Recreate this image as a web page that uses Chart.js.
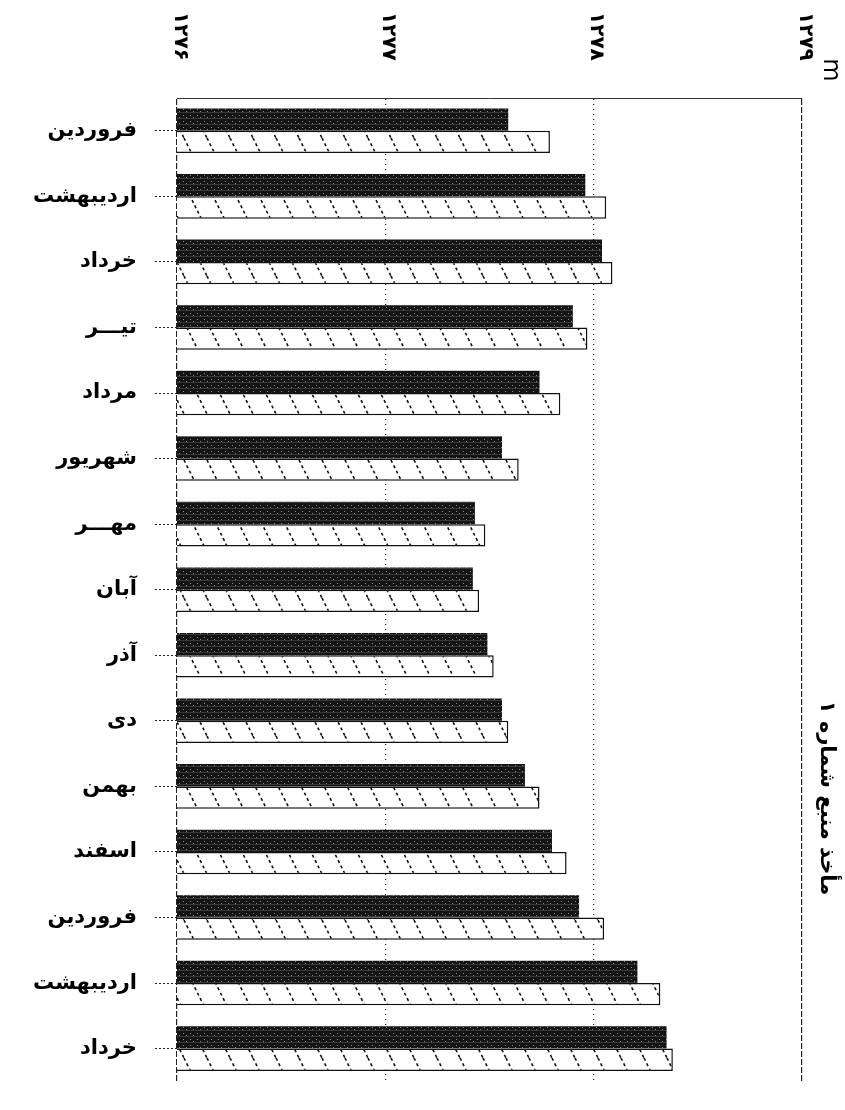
<!DOCTYPE html>
<html lang="fa">
<head>
<meta charset="utf-8">
<script src="https://cdn.jsdelivr.net/npm/chart.js@4.4.0/dist/chart.umd.min.js"></script>
<style>
    html, body { margin: 0; padding: 0; background: #fff; overflow: hidden; }
    #chart { display: block; }
</style>
</head>
<body>
<canvas id="chart" width="845" height="1112"></canvas>
<script>
    // ماه‌ها (دو سال پیاپی)
    const months = ['فروردین', 'اردیبهشت', 'خرداد', 'تیـــر', 'مرداد', 'شهریور', 'مهـــر',
        'آبان', 'آذر', 'دی', 'بهمن', 'اسفند', 'فروردین', 'اردیبهشت', 'خرداد'];

    // سری تیره (بالا) و سری هاشور خورده (پایین)
    const seriesDark = [1277.59, 1277.96, 1278.04, 1277.90, 1277.74, 1277.56, 1277.43,
        1277.42, 1277.49, 1277.56, 1277.67, 1277.80, 1277.93, 1278.21, 1278.35];
    const seriesHatch = [1277.79, 1278.06, 1278.09, 1277.97, 1277.84, 1277.64, 1277.48,
        1277.45, 1277.52, 1277.59, 1277.74, 1277.87, 1278.05, 1278.32, 1278.38];

    // محور افقی
    const tickValues = [1276, 1277, 1278, 1279];
    const tickLabels = ['۱۲۷۶', '۱۲۷۷', '۱۲۷۸', '۱۲۷۹'];
    const unitMark = 'm';
    const sourceNote = 'مأخذ منبع شماره ۱';

    const FONT = '"DejaVu Sans", sans-serif';

    // الگوی بافت تیره
    function darkPattern() {
        const c = document.createElement('canvas');
        c.width = 7; c.height = 6;
        const g = c.getContext('2d');
        g.fillStyle = '#141414';
        g.fillRect(0, 0, 7, 6);
        g.fillStyle = '#8a8a8a';
        g.fillRect(1, 1, 1, 1);
        g.fillRect(4, 3, 1, 1);
        g.fillStyle = '#383838';
        g.fillRect(0, 4, 7, 1);
        return g.createPattern(c, 'repeat');
    }

    // الگوی هاشور مورب
    function hatchPattern() {
        const c = document.createElement('canvas');
        c.width = 23; c.height = 46;
        const g = c.getContext('2d');
        g.fillStyle = '#fff';
        g.fillRect(0, 0, 23, 46);
        g.strokeStyle = '#111';
        g.lineWidth = 1.6;
        g.setLineDash([3, 3]);
        [-23, 0, 23].forEach(function(dx) {
            g.beginPath();
            g.moveTo(dx, 0);
            g.lineTo(dx + 23, 46);
            g.stroke();
        });
        return g.createPattern(c, 'repeat');
    }

    // متن‌های چرخیده: برچسب محور، واحد و مأخذ
    const sideText = {
        id: 'sideText',
        afterDraw: function(chart) {
            const ctx = chart.ctx;
            const xs = chart.scales.x;
            ctx.save();
            ctx.fillStyle = '#000';
            ctx.textBaseline = 'middle';
            ctx.direction = 'ltr';

            ctx.font = 'bold 20px ' + FONT;
            ctx.textAlign = 'left';
            tickValues.forEach(function(v, i) {
                ctx.save();
                ctx.translate(xs.getPixelForValue(v) + 3, 12);
                ctx.rotate(Math.PI / 2);
                ctx.fillText(tickLabels[i], 0, 0);
                ctx.restore();
            });

            ctx.font = '24px ' + FONT;
            ctx.textAlign = 'center';
            ctx.save();
            ctx.translate(830, 70);
            ctx.rotate(Math.PI / 2);
            ctx.fillText(unitMark, 0, 0);
            ctx.restore();

            ctx.font = 'bold 21px ' + FONT;
            ctx.direction = 'rtl';
            ctx.save();
            ctx.translate(826, 798);
            ctx.rotate(Math.PI / 2);
            ctx.fillText(sourceNote, 0, 0);
            ctx.restore();

            ctx.restore();
        }
    };

    Chart.defaults.font.family = FONT;
    Chart.defaults.color = '#000';

    new Chart(document.getElementById('chart'), {
        type: 'bar',
        data: {
            labels: months,
            datasets: [{
                data: seriesDark,
                backgroundColor: darkPattern(),
                borderWidth: 0
            }, {
                data: seriesHatch,
                backgroundColor: hatchPattern(),
                borderColor: '#111',
                borderWidth: 1.5
            }]
        },
        options: {
            indexAxis: 'y',
            responsive: false,
            animation: false,
            layout: { padding: { top: 0, right: 43, bottom: 0, left: 0 } },
            datasets: {
                bar: { barPercentage: 1, categoryPercentage: 0.68 }
            },
            plugins: {
                legend: { display: false },
                tooltip: { enabled: false }
            },
            scales: {
                x: {
                    position: 'top',
                    min: 1276,
                    max: 1279,
                    ticks: { display: false, stepSize: 1 },
                    grid: {
                        drawTicks: false,
                        color: '#222',
                        lineWidth: 1.2
                    },
                    border: {
                        display: true,
                        color: '#333',
                        width: 1,
                        dash: function(c) {
                            if (c.tick && (c.tick.value === 1276 || c.tick.value === 1279)) {
                                return [6, 2];
                            }
                            return [1, 4];
                        }
                    },
                    afterFit: function(s) { s.height = 98; }
                },
                y: {
                    ticks: {
                        autoSkip: false,
                        padding: 18,
                        color: '#000',
                        font: { size: 21, weight: 'bold' }
                    },
                    grid: {
                        offset: false,
                        drawOnChartArea: false,
                        drawTicks: true,
                        tickLength: 22,
                        tickColor: '#222',
                        tickBorderDash: [2, 2],
                        tickWidth: 1
                    },
                    border: { display: false },
                    afterFit: function(s) { s.width = 177; }
                }
            }
        },
        plugins: [sideText]
    });
</script>
</body>
</html>
